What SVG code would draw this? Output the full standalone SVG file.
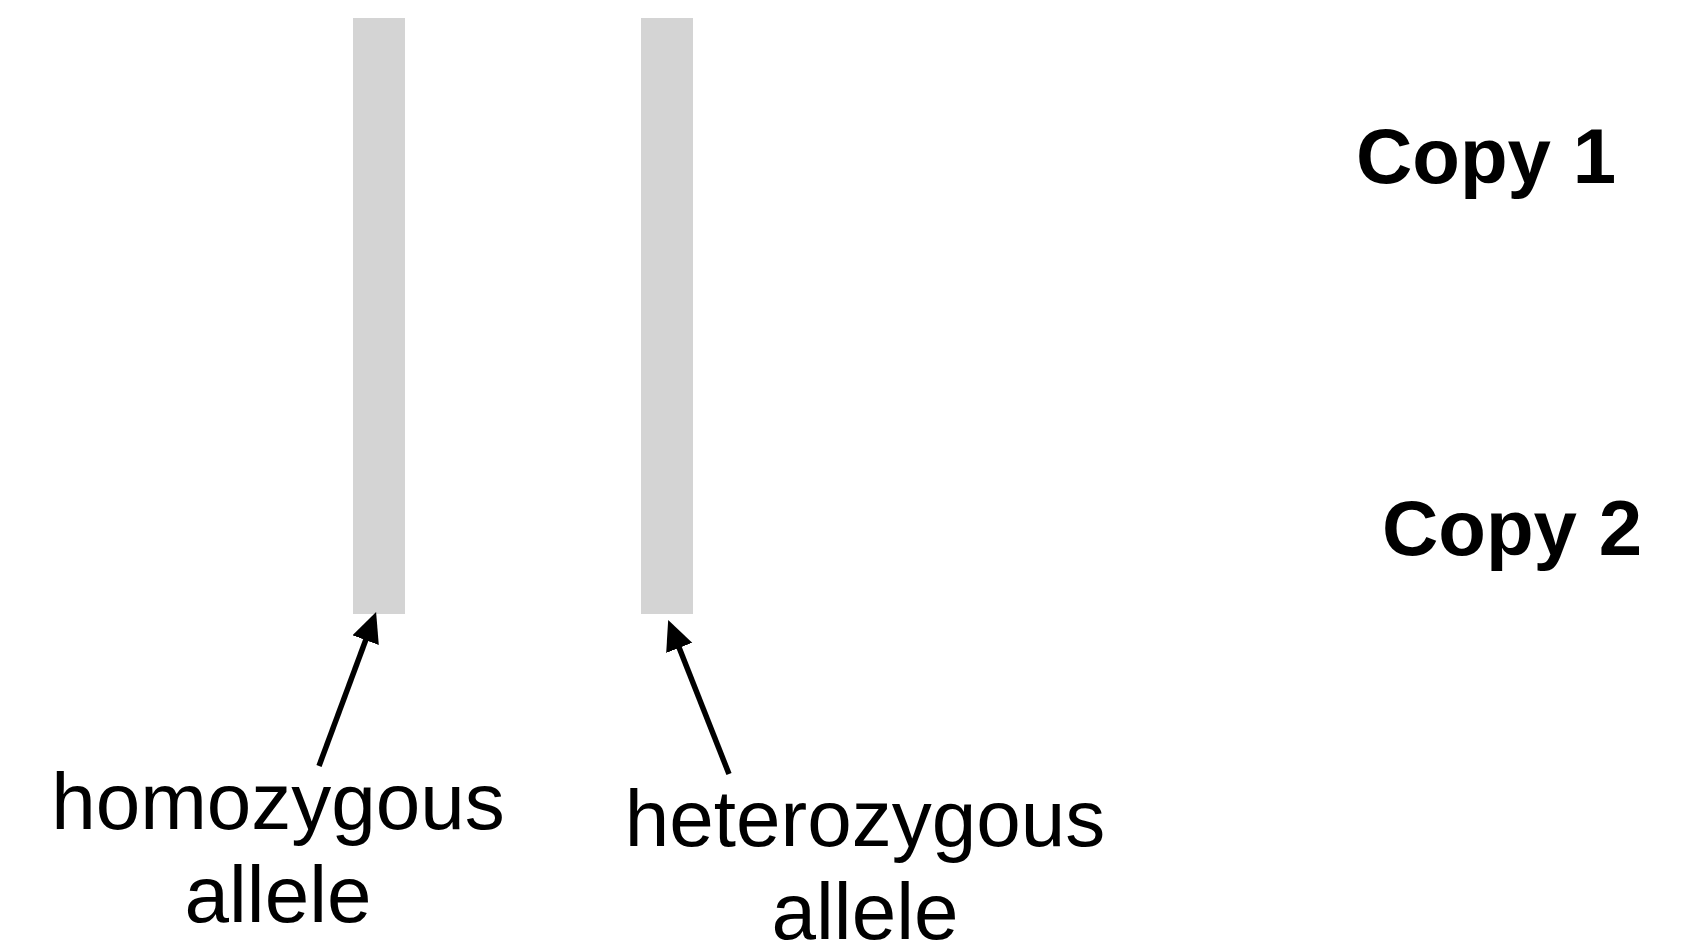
<svg xmlns="http://www.w3.org/2000/svg" width="1706" height="948" viewBox="0 0 1706 948">
<style>
.bar{fill:#d4d4d4}
.lbl{font-family:"Liberation Sans",Arial,sans-serif;font-size:80px;fill:#000}
.hdr{font-family:"Liberation Sans",Arial,sans-serif;font-size:78px;font-weight:bold;fill:#000}
.conn{stroke:#000;stroke-width:5.5;fill:none}
</style>
<defs>
<marker id="ah" markerUnits="userSpaceOnUse" markerWidth="32" markerHeight="30" refX="9" refY="14" orient="auto">
<path d="M0,0 L30,14 L0,28 z" fill="#000"/>
</marker>
</defs>
<rect width="1706" height="948" fill="#fff"/>
<g id="bar-homozygous"><rect class="bar" x="353" y="18" width="52" height="596"/></g>
<g id="bar-heterozygous"><rect class="bar" x="641" y="18" width="52" height="596"/></g>
<g id="copy1"><text class="hdr" x="1356" y="183">Copy 1</text></g>
<g id="copy2"><text class="hdr" x="1382" y="555">Copy 2</text></g>
<g id="label-homozygous"><text class="lbl" text-anchor="middle" x="278" y="829">homozygous</text><text class="lbl" text-anchor="middle" x="278" y="922">allele</text></g>
<g id="label-heterozygous"><text class="lbl" text-anchor="middle" x="865" y="846">heterozygous</text><text class="lbl" text-anchor="middle" x="865" y="939">allele</text></g>
<g id="connectors">
<line class="conn" x1="319" y1="766" x2="368.8" y2="631.7" marker-end="url(#ah)"/>
<line class="conn" x1="729" y1="774" x2="675.9" y2="639.5" marker-end="url(#ah)"/>
</g>
</svg>
